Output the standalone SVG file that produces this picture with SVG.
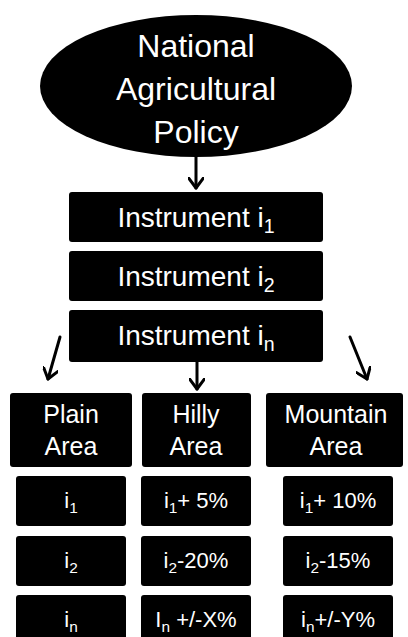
<svg xmlns="http://www.w3.org/2000/svg" width="408" height="637" viewBox="0 0 408 637">
<defs>
<style>
.box{fill:#000}
.t{fill:#fff;font-family:"Liberation Sans",Arial,sans-serif;text-anchor:middle}
.big{font-size:32px}
.mid{font-size:28px}
.area{font-size:25px}
.val{font-size:22px}
.sub{font-size:0.7em}
.conn{stroke:#000;stroke-width:3;fill:none;stroke-linecap:round}
</style>
<marker id="arr" markerWidth="16" markerHeight="16" refX="11" refY="8" orient="auto" markerUnits="userSpaceOnUse" viewBox="0 0 16 16">
<path d="M1,0.5 L11,8 L1,15.5" fill="none" stroke="#000" stroke-width="3" stroke-linecap="round" stroke-linejoin="round"/>
</marker>
</defs>
<rect width="408" height="637" fill="#fff"/>
<g id="policy">
<ellipse cx="196" cy="86" rx="156" ry="71" class="box"/>
<text class="t big" x="196" y="57">National</text>
<text class="t big" x="196" y="100">Agricultural</text>
<text class="t big" x="196" y="143">Policy</text>
</g>
<g id="instrument1">
<rect x="69" y="192" width="254" height="50" rx="3" class="box"/>
<text class="t mid" x="196" y="227">Instrument i<tspan class="sub" dy="6">1</tspan></text>
</g>
<g id="instrument2">
<rect x="69" y="251" width="254" height="50" rx="3" class="box"/>
<text class="t mid" x="196" y="286">Instrument i<tspan class="sub" dy="6">2</tspan></text>
</g>
<g id="instrumentn">
<rect x="69" y="310" width="254" height="52" rx="3" class="box"/>
<text class="t mid" x="196" y="345">Instrument i<tspan class="sub" dy="6">n</tspan></text>
</g>
<g id="plain">
<rect x="10" y="393" width="122" height="74" rx="3" class="box"/>
<text class="t area" x="71" y="423">Plain</text>
<text class="t area" x="71" y="455">Area</text>
</g>
<g id="hilly">
<rect x="142" y="393" width="109" height="74" rx="3" class="box"/>
<text class="t area" x="196" y="423">Hilly</text>
<text class="t area" x="196" y="455">Area</text>
</g>
<g id="mountain">
<rect x="266" y="393" width="137" height="74" rx="3" class="box"/>
<text class="t area" x="336" y="423">Mountain</text>
<text class="t area" x="336" y="455">Area</text>
</g>
<g id="plain-i1">
<rect x="16" y="476" width="110" height="50" rx="3" class="box"/>
<text class="t val" x="71" y="508">i<tspan class="sub" dy="5">1</tspan></text>
</g>
<g id="hilly-i1">
<rect x="141" y="476" width="110" height="50" rx="3" class="box"/>
<text class="t val" x="196" y="508">i<tspan class="sub" dy="5">1</tspan><tspan dy="-5">+ 5%</tspan></text>
</g>
<g id="mountain-i1">
<rect x="283" y="476" width="110" height="50" rx="3" class="box"/>
<text class="t val" x="338" y="508">i<tspan class="sub" dy="5">1</tspan><tspan dy="-5">+ 10%</tspan></text>
</g>
<g id="plain-i2">
<rect x="16" y="536" width="110" height="50" rx="3" class="box"/>
<text class="t val" x="71" y="568">i<tspan class="sub" dy="5">2</tspan></text>
</g>
<g id="hilly-i2">
<rect x="141" y="536" width="110" height="50" rx="3" class="box"/>
<text class="t val" x="196" y="568">i<tspan class="sub" dy="5">2</tspan><tspan dy="-5">-20%</tspan></text>
</g>
<g id="mountain-i2">
<rect x="283" y="536" width="110" height="50" rx="3" class="box"/>
<text class="t val" x="338" y="568">i<tspan class="sub" dy="5">2</tspan><tspan dy="-5">-15%</tspan></text>
</g>
<g id="plain-in">
<rect x="16" y="595" width="110" height="50" rx="3" class="box"/>
<text class="t val" x="71" y="627">i<tspan class="sub" dy="5">n</tspan></text>
</g>
<g id="hilly-in">
<rect x="141" y="595" width="110" height="50" rx="3" class="box"/>
<text class="t val" x="196" y="627">I<tspan class="sub" dy="5">n</tspan><tspan dy="-5"> +/-X%</tspan></text>
</g>
<g id="mountain-in">
<rect x="283" y="595" width="110" height="50" rx="3" class="box"/>
<text class="t val" x="338" y="627">i<tspan class="sub" dy="5">n</tspan><tspan dy="-5">+/-Y%</tspan></text>
</g>
<g id="connectors">
<line class="conn" x1="196" y1="157" x2="196" y2="188" marker-end="url(#arr)"/>
<line class="conn" x1="60" y1="337" x2="48" y2="379" marker-end="url(#arr)"/>
<line class="conn" x1="197" y1="362" x2="197" y2="389" marker-end="url(#arr)"/>
<line class="conn" x1="350" y1="337" x2="367" y2="379" marker-end="url(#arr)"/>
</g>
</svg>
